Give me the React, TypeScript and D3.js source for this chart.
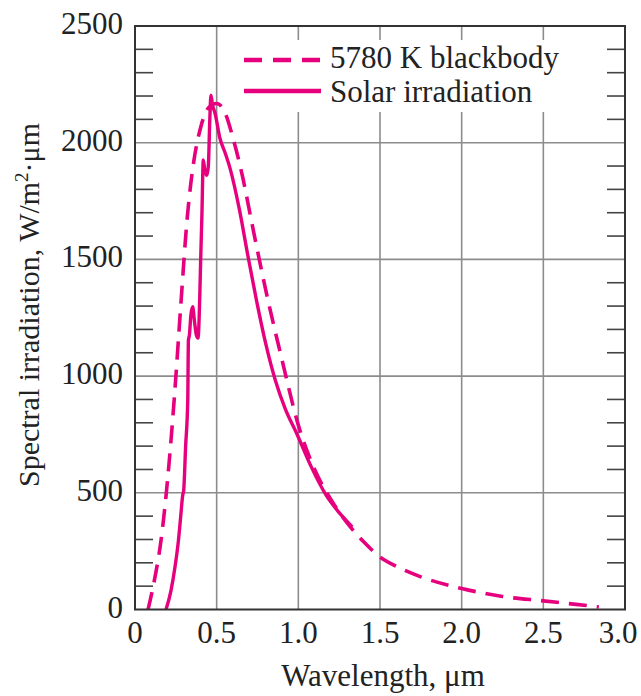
import * as d3 from "d3";
import { useEffect, useRef } from "react";

// wavelength (um) -> spectral irradiation (W/m2.um)
const blackbodyWl = [0.08, 0.12, 0.16, 0.2, 0.24, 0.28, 0.32, 0.36, 0.4, 0.45, 0.5, 0.55, 0.6, 0.66, 0.72, 0.8, 0.9, 1.0, 1.1, 1.2, 1.3, 1.4, 1.5, 1.6, 1.75, 2.0, 2.25, 2.5, 2.7, 2.84];
const blackbodyVal = [0, 130, 300, 560, 900, 1300, 1680, 1920, 2060, 2150, 2168, 2130, 2020, 1850, 1640, 1370, 1070, 790, 600, 470, 370, 290, 225, 185, 140, 90, 56, 37, 22, 11];

const solarWl = [0.19, 0.22, 0.245, 0.265, 0.28, 0.292, 0.298, 0.31, 0.323, 0.327, 0.333, 0.342, 0.353, 0.365, 0.376, 0.386, 0.395, 0.402, 0.41, 0.418, 0.428, 0.44, 0.449, 0.458, 0.465, 0.475, 0.49, 0.52, 0.55, 0.582, 0.64, 0.69, 0.745, 0.8, 0.86, 0.92, 0.99, 1.08, 1.17, 1.25, 1.33];
const solarVal = [0, 80, 183, 290, 400, 490, 510, 700, 897, 1154, 1175, 1260, 1297, 1230, 1175, 1163, 1300, 1497, 1700, 1926, 1880, 1860, 1900, 2100, 2204, 2160, 2126, 2019, 1960, 1890, 1711, 1520, 1320, 1140, 980, 860, 754, 610, 490, 415, 354];

const xTicks = [0, 0.5, 1.0, 1.5, 2.0, 2.5, 3.0];
const xTickLabels = ["0", "0.5", "1.0", "1.5", "2.0", "2.5", "3.0"];
const yTicks = [0, 500, 1000, 1500, 2000, 2500];
const legendLabels = ["5780 K blackbody", "Solar irradiation"];

const W = 641;
const H = 696;
const pink = "#e6007e";
const font = "'Liberation Serif', 'Times New Roman', serif";

function SpectrumChart() {
	const ref = useRef<SVGSVGElement | null>(null);

	useEffect(() => {
		const svg = d3.select(ref.current);
		svg.selectAll("*").remove();

		const x = d3.scaleLinear().domain([0, 3]).range([135, 625]);
		const y = d3.scaleLinear().domain([0, 2500]).range([609.5, 26]);

		// grid
		const grid = svg.append("g").attr("stroke", "#8c8c8c").attr("stroke-width", 1.6);
		grid.selectAll("line.v")
			.data(xTicks.slice(1, -1))
			.enter()
			.append("line")
			.attr("x1", (d) => x(d))
			.attr("x2", (d) => x(d))
			.attr("y1", y(0))
			.attr("y2", y(2500));
		grid.selectAll("line.h")
			.data(yTicks.slice(1, -1))
			.enter()
			.append("line")
			.attr("x1", x(0))
			.attr("x2", x(3))
			.attr("y1", (d) => y(d))
			.attr("y2", (d) => y(d));

		// minor ticks on both sides, every 100
		const minor = d3.range(100, 2500, 100).filter((d) => d % 500 !== 0);
		const ticks = svg.append("g").attr("stroke", "#444").attr("stroke-width", 1.6);
		ticks.selectAll("line.l")
			.data(minor)
			.enter()
			.append("line")
			.attr("x1", x(0))
			.attr("x2", x(0) + 18)
			.attr("y1", (d) => y(d))
			.attr("y2", (d) => y(d));
		ticks.selectAll("line.r")
			.data(minor)
			.enter()
			.append("line")
			.attr("x1", x(3) - 18)
			.attr("x2", x(3))
			.attr("y1", (d) => y(d))
			.attr("y2", (d) => y(d));

		// legend background hides the grid
		svg.append("rect")
			.attr("x", 232)
			.attr("y", 40)
			.attr("width", 358)
			.attr("height", 72)
			.attr("fill", "#fff");

		// curves
		const line = d3
			.line<[number, number]>()
			.x((d) => x(d[0]))
			.y((d) => y(d[1]))
			.curve(d3.curveMonotoneX);

		const bb: [number, number][] = blackbodyWl.map((w, i) => [w, blackbodyVal[i]]);
		const sol: [number, number][] = solarWl.map((w, i) => [w, solarVal[i]]);

		svg.append("path")
			.attr("d", line(bb))
			.attr("fill", "none")
			.attr("stroke", pink)
			.attr("stroke-width", 3.6)
			.attr("stroke-dasharray", "18 10");

		svg.append("path")
			.attr("d", line(sol))
			.attr("fill", "none")
			.attr("stroke", pink)
			.attr("stroke-width", 3.4)
			.attr("stroke-linejoin", "round");

		// frame
		svg.append("rect")
			.attr("x", x(0))
			.attr("y", y(2500))
			.attr("width", x(3) - x(0))
			.attr("height", y(0) - y(2500))
			.attr("fill", "none")
			.attr("stroke", "#333")
			.attr("stroke-width", 2);

		// tick labels
		svg.selectAll("text.xt")
			.data(xTicks)
			.enter()
			.append("text")
			.attr("x", (d) => x(d))
			.attr("y", 643)
			.attr("dx", (d, i) => (i === xTicks.length - 1 ? -7 : 0))
			.attr("text-anchor", "middle")
			.attr("font-family", font)
			.attr("font-size", 31)
			.attr("fill", "#222")
			.text((d, i) => xTickLabels[i]);

		svg.selectAll("text.yt")
			.data(yTicks)
			.enter()
			.append("text")
			.attr("x", 123)
			.attr("y", (d) => y(d) + 8)
			.attr("text-anchor", "end")
			.attr("font-family", font)
			.attr("font-size", 31)
			.attr("fill", "#222")
			.text((d) => d);

		// axis titles
		svg.append("text")
			.attr("x", (x(0) + x(3)) / 2 + 3)
			.attr("y", 686)
			.attr("text-anchor", "middle")
			.attr("font-family", font)
			.attr("font-size", 31)
			.attr("fill", "#222")
			.text("Wavelength, \u03bcm");

		const yt = svg.append("text")
			.attr("transform", "translate(39,305) rotate(-90)")
			.attr("text-anchor", "middle")
			.attr("font-family", font)
			.attr("font-size", 30)
			.attr("fill", "#222");
		yt.append("tspan").text("Spectral irradiation, W/m");
		yt.append("tspan").attr("font-size", 19).attr("dy", -11).text("2");
		yt.append("tspan").attr("dy", 11).text("\u00b7\u03bcm");

		// legend
		const lg = svg.append("g");
		lg.append("line")
			.attr("x1", 244).attr("x2", 321)
			.attr("y1", 60).attr("y2", 60)
			.attr("stroke", pink)
			.attr("stroke-width", 4.6)
			.attr("stroke-dasharray", "18 11");
		lg.append("line")
			.attr("x1", 244).attr("x2", 321)
			.attr("y1", 91).attr("y2", 91)
			.attr("stroke", pink)
			.attr("stroke-width", 4.6);
		lg.selectAll("text")
			.data(legendLabels)
			.enter()
			.append("text")
			.attr("x", 330)
			.attr("y", (d, i) => 68 + i * 34)
			.attr("font-family", font)
			.attr("font-size", 31)
			.attr("fill", "#222")
			.text((d) => d);
	}, []);

	return <svg ref={ref} width={W} height={H} style={{ position: "absolute", left: 0, top: 0, background: "#fff" }} />;
}

export default function App() {
	return <SpectrumChart />;
}
